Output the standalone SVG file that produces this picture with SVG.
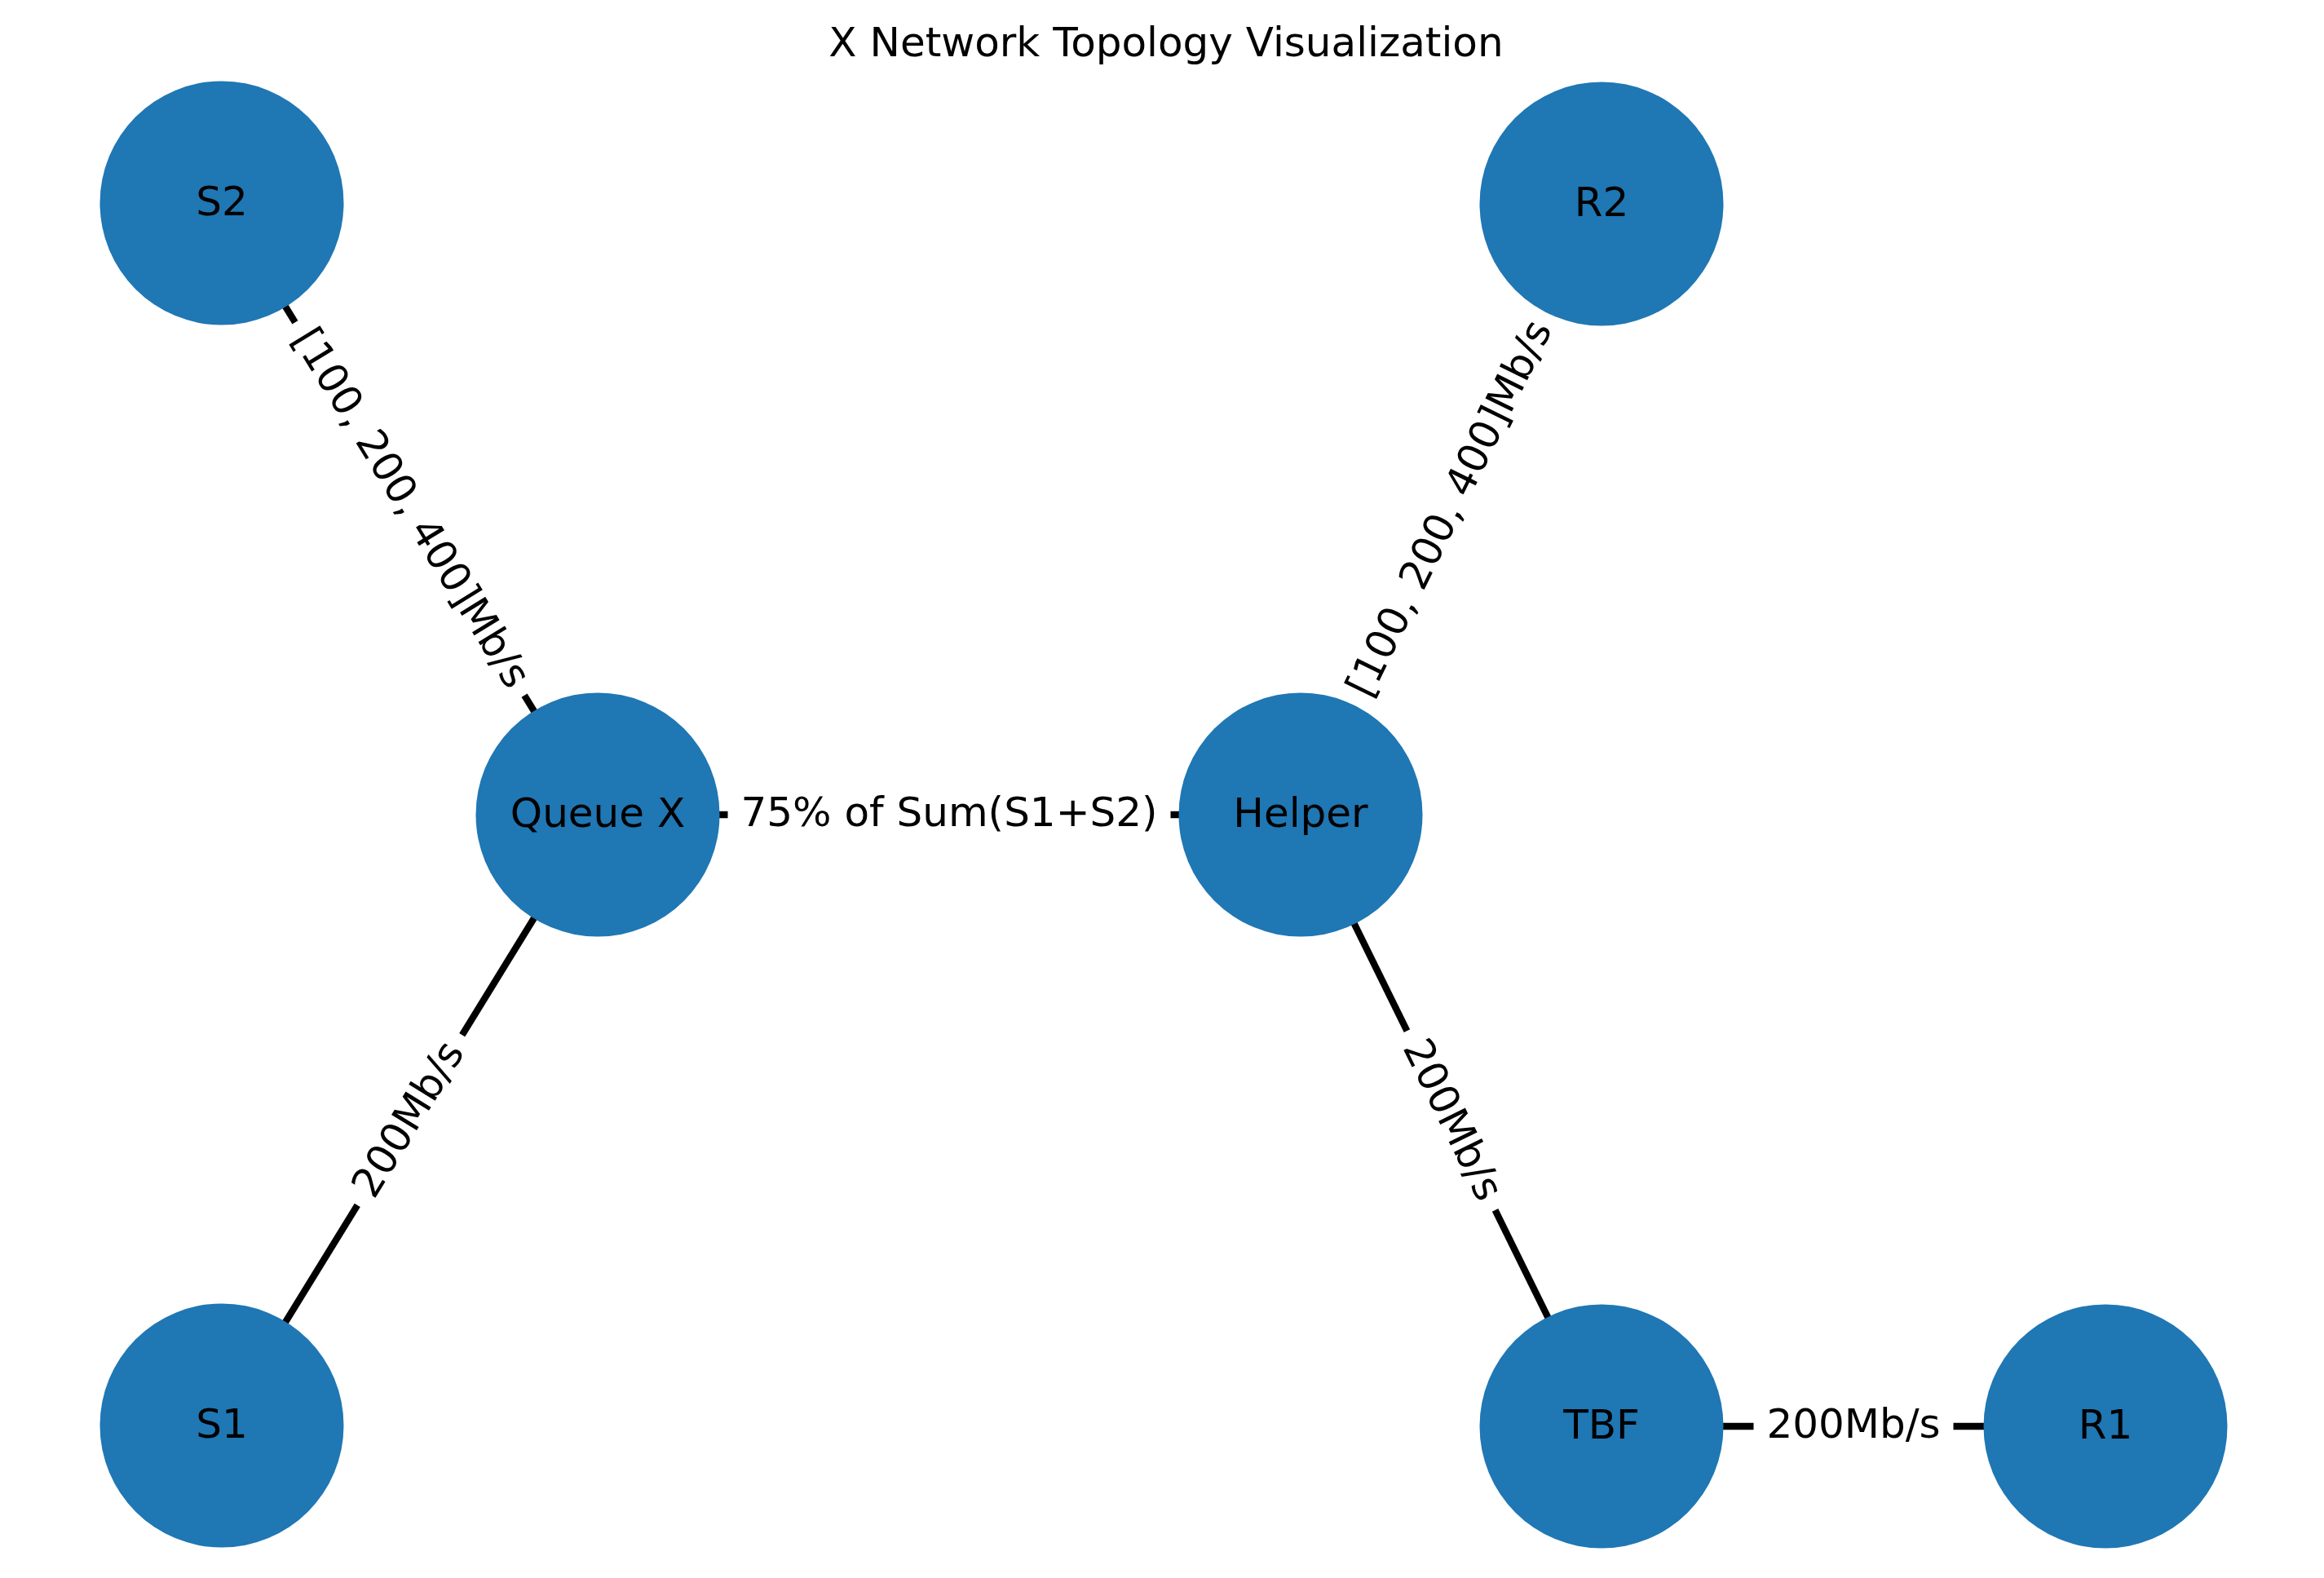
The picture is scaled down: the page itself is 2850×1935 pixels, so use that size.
<svg xmlns="http://www.w3.org/2000/svg" width="2850" height="1935" viewBox="0 0 2850 1935">
<style>
text{font-family:"DejaVu Sans",sans-serif;font-size:50px;fill:#000;text-anchor:middle}
.node{fill:#1f77b4}
.edge{stroke:#000;stroke-width:8.3;fill:none}
.lbox{fill:#fff;stroke:#fff;stroke-width:1}
</style>
<rect width="2850" height="1935" fill="#fff"/>
<text id="title" x="1430" y="69">X Network Topology Visualization</text>
<g id="connectors">
<line class="edge" x1="272" y1="249" x2="733" y2="999"/>
<line class="edge" x1="272" y1="1748" x2="733" y2="999"/>
<line class="edge" x1="733" y1="999" x2="1595" y2="999"/>
<line class="edge" x1="1595" y1="999" x2="1964" y2="250"/>
<line class="edge" x1="1595" y1="999" x2="1964" y2="1749"/>
<line class="edge" x1="1964" y1="1749" x2="2582" y2="1749"/>
</g>
<g id="edge-labels">
<g transform="translate(502.5,624) rotate(58.4)"><rect class="lbox" x="-268" y="-39" width="536" height="78" rx="15"/><text y="14">[100, 200, 400]Mb/s</text></g>
<g transform="translate(502.5,1373.5) rotate(-58.4)"><rect class="lbox" x="-122" y="-39" width="244" height="78" rx="15"/><text y="14">200Mb/s</text></g>
<g transform="translate(1164,999)"><rect class="lbox" x="-271" y="-39" width="542" height="78" rx="15"/><text y="14">75% of Sum(S1+S2)</text></g>
<g transform="translate(1779.5,624.5) rotate(-63.8)"><rect class="lbox" x="-268" y="-39" width="536" height="78" rx="15"/><text y="14">[100, 200, 400]Mb/s</text></g>
<g transform="translate(1779.5,1374) rotate(63.8)"><rect class="lbox" x="-122" y="-39" width="244" height="78" rx="15"/><text y="14">200Mb/s</text></g>
<g transform="translate(2273,1749)"><rect class="lbox" x="-122" y="-39" width="244" height="78" rx="15"/><text y="14">200Mb/s</text></g>
</g>
<g id="node-S2"><circle class="node" cx="272" cy="249" r="149.5"/><text x="272" y="264">S2</text></g>
<g id="node-S1"><circle class="node" cx="272" cy="1748" r="149.5"/><text x="272" y="1763">S1</text></g>
<g id="node-QueueX"><circle class="node" cx="733" cy="999" r="149.5"/><text x="733" y="1014">Queue X</text></g>
<g id="node-Helper"><circle class="node" cx="1595" cy="999" r="149.5"/><text x="1595" y="1014">Helper</text></g>
<g id="node-R2"><circle class="node" cx="1964" cy="250" r="149.5"/><text x="1964" y="265">R2</text></g>
<g id="node-TBF"><circle class="node" cx="1964" cy="1749" r="149.5"/><text x="1964" y="1764">TBF</text></g>
<g id="node-R1"><circle class="node" cx="2582" cy="1749" r="149.5"/><text x="2582" y="1764">R1</text></g>
</svg>
